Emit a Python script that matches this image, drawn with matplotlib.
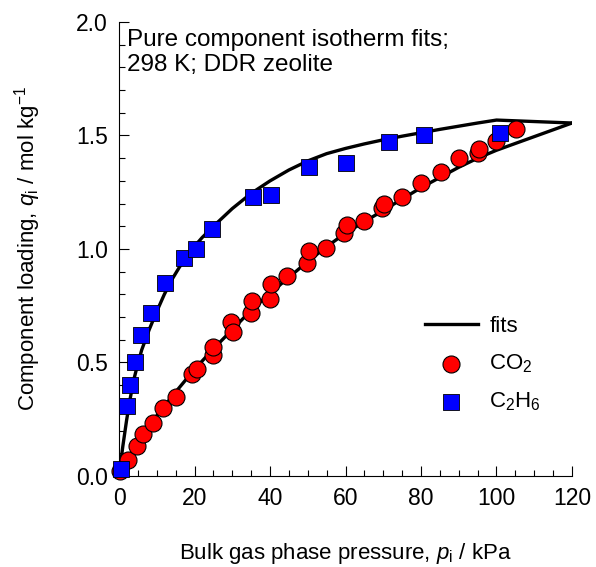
import matplotlib.pyplot as plt
from matplotlib.ticker import MultipleLocator

plt.rcParams['font.family'] = ['Liberation Sans', 'DejaVu Sans']
plt.rcParams['mathtext.fontset'] = 'custom'
plt.rcParams['mathtext.rm'] = 'Liberation Sans'
plt.rcParams['mathtext.it'] = 'Liberation Sans:italic'

# experimental data, CO2
co2_p = [0.3, 2.5, 4.7, 6.4, 9.1, 11.7, 15.1, 19.3, 20.6, 25.0, 25.0, 29.7, 30.1,
         35.0, 35.2, 40.0, 40.2, 44.4, 49.7, 50.3, 54.8, 59.7, 60.3, 64.9, 69.8,
         70.3, 75.0, 79.9, 85.3, 90.2, 95.2, 95.4, 100.0, 105.1]
co2_q = [0.02, 0.07, 0.13, 0.185, 0.235, 0.30, 0.35, 0.45, 0.47, 0.533, 0.57, 0.68,
         0.636, 0.72, 0.77, 0.78, 0.846, 0.88, 0.937, 0.99, 1.003, 1.07, 1.106,
         1.123, 1.18, 1.20, 1.23, 1.29, 1.34, 1.40, 1.424, 1.44, 1.477, 1.53]

# experimental data, C2H6
c2h6_p = [0.5, 2.1, 2.9, 4.2, 5.8, 8.5, 12.2, 17.2, 20.4, 24.6, 35.5, 40.3,
          50.3, 60.1, 71.5, 80.8, 100.9]
c2h6_q = [0.03, 0.31, 0.40, 0.50, 0.62, 0.72, 0.85, 0.96, 1.00, 1.09, 1.23, 1.24,
          1.36, 1.38, 1.47, 1.50, 1.51]

# isotherm fits
fit_c2h6_p = [0, 1, 2, 3, 4, 5, 6, 8, 10, 12, 14, 16, 18, 20, 22, 25, 30, 35, 40,
              45, 50, 55, 60, 65, 70, 75, 80, 85, 90, 95, 100, 120]
fit_c2h6_q = [0, 0.13, 0.245, 0.345, 0.43, 0.495, 0.555, 0.645, 0.725, 0.80, 0.865,
              0.92, 0.968, 1.012, 1.05, 1.10, 1.178, 1.245, 1.30, 1.348, 1.388, 1.42,
              1.443, 1.463, 1.481, 1.497, 1.512, 1.527, 1.541, 1.555, 1.568, 1.555]
fit_co2_p = [0, 5, 10, 15, 20, 25, 30, 35, 40, 45, 50, 55, 60, 65, 70, 75, 80, 85,
             90, 95, 100, 120]
fit_co2_q = [0, 0.14, 0.265, 0.37, 0.47, 0.56, 0.645, 0.73, 0.805, 0.875, 0.945,
             1.01, 1.07, 1.12, 1.17, 1.22, 1.27, 1.315, 1.36, 1.40, 1.435, 1.555]

fig = plt.figure(figsize=(5.96, 5.67), dpi=100)
ax = fig.add_axes([0.1997, 0.1605, 0.76, 0.8007])

ax.plot(fit_c2h6_p, fit_c2h6_q, color='black', lw=2.4, label='fits', zorder=2)
ax.plot(fit_co2_p, fit_co2_q, color='black', lw=2.4, zorder=2)
ax.scatter(co2_p, co2_q, s=150, marker='o', facecolor='red', edgecolor='black',
           linewidth=0.8, label='CO$_2$', zorder=3, clip_on=False)
ax.scatter(c2h6_p, c2h6_q, s=120, marker='s', facecolor='blue', edgecolor='black',
           linewidth=0.6, label='C$_2$H$_6$', zorder=4, clip_on=False)

ax.set_xlim(0, 120)
ax.set_ylim(0, 2.0)
ax.xaxis.set_major_locator(MultipleLocator(20))
ax.xaxis.set_minor_locator(MultipleLocator(5))
ax.yaxis.set_major_locator(MultipleLocator(0.5))
ax.yaxis.set_minor_locator(MultipleLocator(0.1))
ax.yaxis.set_major_formatter(plt.FormatStrFormatter('%.1f'))
ax.tick_params(which='both', direction='in', labelsize=16.5, width=0.8)
ax.tick_params(which='major', length=7, pad=8)
ax.tick_params(which='minor', length=4)
ax.spines['top'].set_visible(False)
ax.spines['right'].set_visible(False)

ax.set_xlabel('Bulk gas phase pressure, $\\mathit{p}_\\mathrm{i}$ / kPa', fontsize=16, labelpad=22)
ax.set_ylabel('Component loading, $\\mathit{q}_\\mathrm{i}$ / mol kg$^{-1}$', fontsize=16, labelpad=24)

ax.text(0.018, 0.985, 'Pure component isotherm fits;\n298 K; DDR zeolite', transform=ax.transAxes,
        fontsize=17.5, va='top', ha='left', linespacing=1.2)

ax.legend(loc='center left', bbox_to_anchor=(0.675, 0.245), frameon=False, fontsize=16,
          handlelength=2.4, labelspacing=0.7, handletextpad=0.5, borderpad=0,
          borderaxespad=0)

fig.savefig('out.png', dpi=100)
